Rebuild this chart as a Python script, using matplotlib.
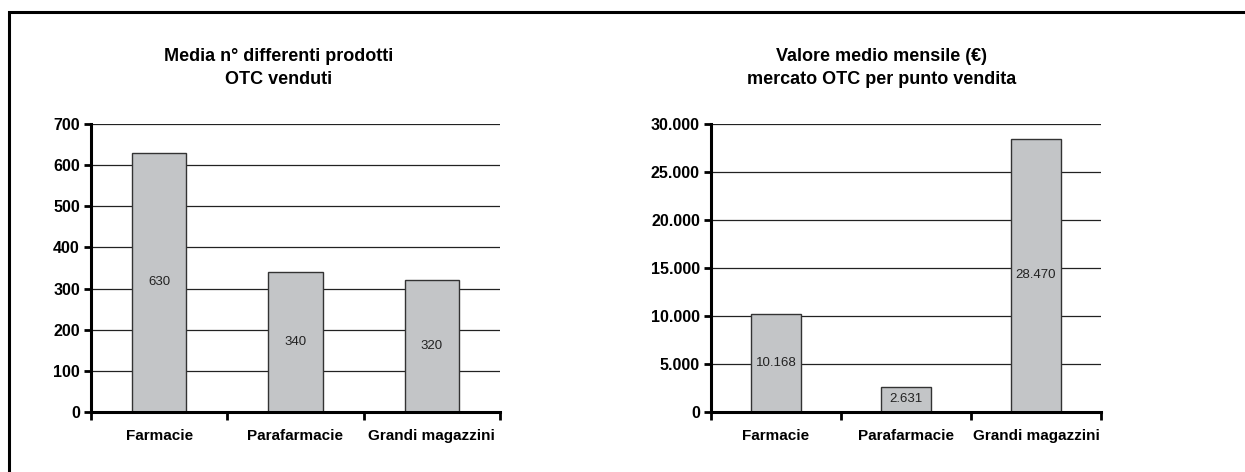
import numpy as np
import matplotlib.pyplot as plt
from matplotlib.patches import Rectangle
from matplotlib.ticker import FixedLocator

categories = ['Farmacie', 'Parafarmacie', 'Grandi magazzini']

prodotti = [630, 340, 320]
prodotti_labels = ['630', '340', '320']
prodotti_ticks = [0, 100, 200, 300, 400, 500, 600, 700]

valore = [10168, 2631, 28470]
valore_labels = ['10.168', '2.631', '28.470']
valore_ticks = [0, 5000, 10000, 15000, 20000, 25000, 30000]
valore_ticklabels = ['0', '5.000', '10.000', '15.000', '20.000', '25.000', '30.000']

title_left = 'Media n° differenti prodotti\nOTC venduti'
title_right = 'Valore medio mensile (€)\nmercato OTC per punto vendita'

plt.rcParams['font.family'] = ['Liberation Sans', 'DejaVu Sans']

W, H = 1245, 472
fig = plt.figure(figsize=(W / 100, H / 100), dpi=100)

# outer frame (runs off the right and bottom edge)
fig.patches.append(Rectangle((9 / W, -0.1), 1.2, 1 - 12 / H + 0.1, transform=fig.transFigure,
                             fill=False, edgecolor='black', linewidth=2.2))


def draw(rect, values, labels, ticks, ticklabels, ymax, width, title, title_x):
    ax = fig.add_axes(rect)
    x = np.arange(len(categories))
    ax.set_axisbelow(True)
    ax.yaxis.grid(True, color='#222222', linewidth=0.9)
    ax.bar(x, values, width=width, color='#c3c5c7', edgecolor='#333333', linewidth=1.0, zorder=2)
    for xi, v, lab in zip(x, values, labels):
        ax.text(xi, v / 2, lab, ha='center', va='center', fontsize=9.5,
                color='#222222', zorder=3)
    ax.set_xlim(-0.5, len(categories) - 0.5)
    ax.set_ylim(0, ymax)
    ax.set_yticks(ticks)
    ax.set_yticklabels(ticklabels, fontsize=11.5, fontweight='bold')
    ax.set_xticks(x)
    ax.set_xticklabels(categories, fontsize=11, fontweight='bold')
    ax.xaxis.set_minor_locator(FixedLocator(np.arange(len(categories) + 1) - 0.5))
    ax.tick_params(axis='x', which='major', length=0, pad=12)
    ax.tick_params(axis='x', which='minor', length=6, width=2, direction='out')
    ax.tick_params(axis='y', length=5, width=2, direction='out', pad=3)
    for s in ['top', 'right']:
        ax.spines[s].set_visible(False)
    for s in ['left', 'bottom']:
        ax.spines[s].set_linewidth(2.2)
    fig.text(title_x, 1 - 68 / H, title, ha='center', va='center', fontsize=13,
             fontweight='bold', linespacing=1.45)
    return ax


draw([91 / W, 1 - 412 / H, 409 / W, 288 / H], prodotti, prodotti_labels,
     prodotti_ticks, [str(t) for t in prodotti_ticks], 700, 0.4, title_left, 279 / W)
draw([711 / W, 1 - 412 / H, 390 / W, 288 / H], valore, valore_labels,
     valore_ticks, valore_ticklabels, 30000, 0.39, title_right, 882 / W)

fig.savefig('out.png', dpi=100)
